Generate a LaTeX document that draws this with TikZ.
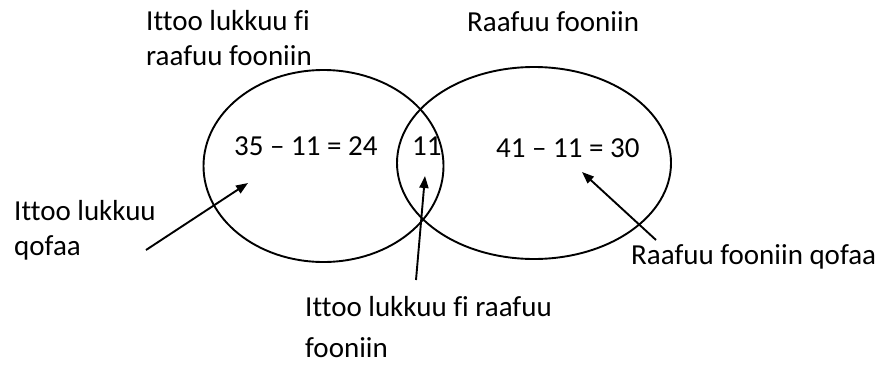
\documentclass[tikz,border=0pt]{standalone}
\usepackage{fontspec}
\setmainfont{Carlito}[Ligatures=NoCommon]
\usetikzlibrary{shapes.geometric,arrows.meta}
\begin{document}
\begin{tikzpicture}[x=1pt,y=-1pt,
  lbl/.style={inner sep=0pt,anchor=base west,align=left,font=\fontsize{29}{35}\selectfont},
  setc/.style={draw,ellipse,line width=1.9pt,inner sep=0pt},
  ptr/.style={line width=1.9pt,-{Triangle[length=12pt,width=9pt]}}]
\useasboundingbox (0,0) rectangle (882,364);
\node[setc,minimum width=240,minimum height=192] (L) at (323.5,166) {};
\node[setc,minimum width=274,minimum height=192] (R) at (534,163) {};
\node[lbl] (tl) at (146,65) {Ittoo lukkuu fi\\raafuu fooniin};
\node[lbl] (tr) at (467,31) {Raafuu fooniin};
\node[lbl] (a) at (234,155) {35 – 11 = 24};
\node[lbl] (b) at (412,155) {11};
\node[lbl] (c) at (496,157) {41 – 11 = 30};
\node[lbl] (ql) at (14,255) {Ittoo lukkuu\\qofaa};
\node[lbl] (qr) at (631,264) {Raafuu fooniin qofaa};
\node[lbl,font=\fontsize{29}{41}\selectfont] (both) at (305,357) {Ittoo lukkuu fi raafuu\\fooniin};
\coordinate (p1s) at (146,250);
\coordinate (p1e) at (248,183);
\coordinate (p2s) at (416,280);
\coordinate (p2e) at (425,176);
\coordinate (p3s) at (656,240);
\coordinate (p3e) at (582,172);
\draw[ptr] (p1s) -- (p1e);
\draw[ptr] (p2s) -- (p2e);
\draw[ptr] (p3s) -- (p3e);
\end{tikzpicture}
\end{document}
